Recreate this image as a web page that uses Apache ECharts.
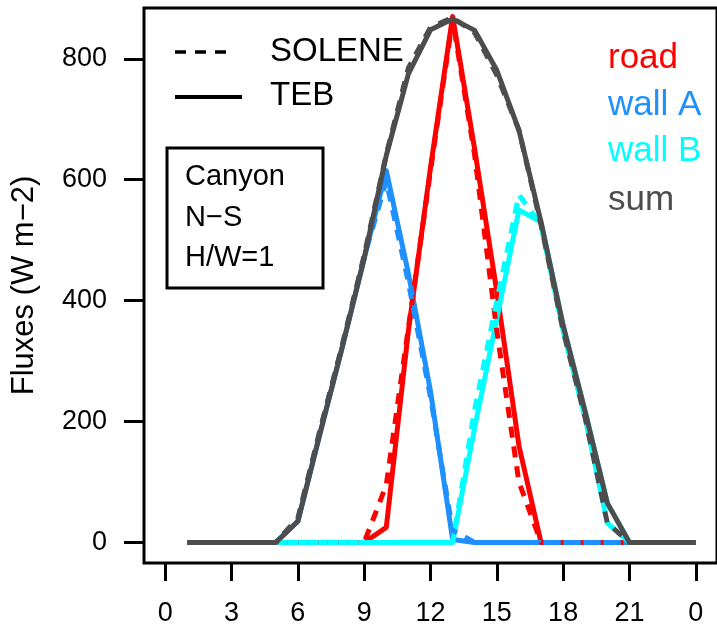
<!DOCTYPE html>
<html>
<head>
<meta charset="utf-8">
<title>Canyon N-S fluxes</title>
<script src="https://cdn.jsdelivr.net/npm/echarts@6/dist/echarts.min.js"></script>
<style>
  html, body { margin: 0; padding: 0; background: #fff; }
  #chart { width: 717px; height: 634px; }
</style>
</head>
<body>
<div id="chart"></div>
<script>
// Hour of day (local time) for each sample
const hours = [1, 2, 3, 4, 5, 6, 7, 8, 9, 10, 11, 12, 13, 14, 15, 16, 17, 18, 19, 20, 21, 22, 23, 24];

// Axis ticks
const xTicks = [0, 3, 6, 9, 12, 15, 18, 21, 24];
const xTickLabels = ['0', '3', '6', '9', '12', '15', '18', '21', '0'];
const yTicks = [0, 200, 400, 600, 800];

// Solar fluxes received (W m-2), TEB model
const tebRoad  = [0, 0, 0, 0, 0, 0, 0, 0, 0, 25, 350, 620, 870, 650, 415, 160, 0, 0, 0, 0, 0, 0, 0, 0];
const tebWallA = [0, 0, 0, 0, 0, 35, 180, 322, 470, 615, 445, 250, 5, 0, 0, 0, 0, 0, 0, 0, 0, 0, 0, 0];
const tebWallB = [0, 0, 0, 0, 0, 0, 0, 0, 0, 0, 0, 0, 0, 190, 370, 550, 530, 359, 216, 65, 0, 0, 0, 0];
const tebSum   = [0, 0, 0, 0, 0, 35, 180, 322, 470, 640, 775, 848, 866, 847, 781, 682, 530, 359, 216, 65, 0, 0, 0, 0];

// Solar fluxes received (W m-2), SOLENE model
const soleneRoad  = [0, 0, 0, 0, 0, 0, 0, 0, 0, 95, 355, 615, 865, 640, 350, 100, 0, 0, 0, 0, 0, 0, 0, 0];
const soleneWallA = [0, 0, 0, 0, 0, 38, 185, 325, 472, 598, 430, 240, 20, 0, 0, 0, 0, 0, 0, 0, 0, 0, 0, 0];
const soleneWallB = [0, 0, 0, 0, 0, 0, 0, 0, 0, 0, 0, 0, 0, 220, 400, 575, 525, 350, 205, 32, 0, 0, 0, 0];
const soleneSum   = [0, 0, 0, 0, 0, 40, 185, 325, 475, 642, 785, 852, 868, 843, 773, 682, 525, 350, 205, 32, 0, 0, 0, 0];

const FONT = '"Liberation Sans", Arial, Helvetica, sans-serif';
const RED = '#FF0000', BLUE = '#1E90FF', CYAN = '#00FFFF', GREY = '#4D4D4D';

function line(name, values, color, dashed) {
  return {
    name: name,
    type: 'line',
    data: hours.map((h, i) => [h, values[i]]),
    showSymbol: false,
    symbol: 'none',
    silent: true,
    lineStyle: {
      color: color,
      width: 5,
      type: dashed ? [11, 9] : 'solid',
      cap: 'butt',
      join: 'round'
    }
  };
}

const chart = echarts.init(document.getElementById('chart'), null, { renderer: 'canvas' });

chart.setOption({
  animation: false,
  backgroundColor: '#ffffff',
  textStyle: { fontFamily: FONT },
  grid: {
    left: 144, top: 8, width: 578, height: 555,
    show: true, borderColor: '#000', borderWidth: 3,
    backgroundColor: 'transparent'
  },
  xAxis: {
    type: 'value',
    min: -0.96, max: 24.96,
    axisLine: { show: false, onZero: false },
    splitLine: { show: false },
    axisTick: {
      show: true, length: 18, inside: false,
      customValues: xTicks,
      lineStyle: { color: '#000', width: 3 }
    },
    axisLabel: {
      customValues: xTicks,
      margin: 37,
      fontSize: 27, color: '#000', fontFamily: FONT,
      formatter: v => xTickLabels[xTicks.indexOf(v)]
    }
  },
  yAxis: {
    type: 'value',
    min: -34, max: 884,
    name: 'Fluxes (W m\u22122)',
    nameLocation: 'middle',
    nameRotate: 90,
    nameGap: 104,
    nameTextStyle: { fontSize: 31, color: '#000', fontFamily: FONT },
    axisLine: { show: false, onZero: false },
    splitLine: { show: false },
    axisTick: {
      show: true, length: 20, inside: false,
      customValues: yTicks,
      lineStyle: { color: '#000', width: 3 }
    },
    axisLabel: {
      customValues: yTicks,
      margin: 37,
      fontSize: 27, color: '#000', fontFamily: FONT
    }
  },
  series: [
    line('road TEB', tebRoad, RED, false),
    line('wall A TEB', tebWallA, BLUE, false),
    line('wall B TEB', tebWallB, CYAN, false),
    line('road SOLENE', soleneRoad, RED, true),
    line('wall A SOLENE', soleneWallA, BLUE, true),
    line('wall B SOLENE', soleneWallB, CYAN, true),
    line('sum TEB', tebSum, GREY, false),
    line('sum SOLENE', soleneSum, GREY, true)
  ],
  graphic: [
    // line-type key
    { type: 'line', shape: { x1: 175, y1: 52, x2: 232, y2: 52 },
      style: { stroke: '#000', lineWidth: 3.5, lineDash: [11, 9] } },
    { type: 'text', x: 270, y: 52,
      style: { text: 'SOLENE', font: '33px ' + FONT, fill: '#000', textAlign: 'left', textVerticalAlign: 'middle' } },
    { type: 'line', shape: { x1: 175, y1: 97, x2: 242, y2: 97 },
      style: { stroke: '#000', lineWidth: 4 } },
    { type: 'text', x: 270, y: 96,
      style: { text: 'TEB', font: '33px ' + FONT, fill: '#000', textAlign: 'left', textVerticalAlign: 'middle' } },

    // surface colour key
    { type: 'text', x: 608, y: 58,
      style: { text: 'road', font: '35px ' + FONT, fill: RED, textAlign: 'left', textVerticalAlign: 'middle' } },
    { type: 'text', x: 608, y: 105,
      style: { text: 'wall A', font: '35px ' + FONT, fill: BLUE, textAlign: 'left', textVerticalAlign: 'middle' } },
    { type: 'text', x: 608, y: 151,
      style: { text: 'wall B', font: '35px ' + FONT, fill: CYAN, textAlign: 'left', textVerticalAlign: 'middle' } },
    { type: 'text', x: 608, y: 200,
      style: { text: 'sum', font: '35px ' + FONT, fill: GREY, textAlign: 'left', textVerticalAlign: 'middle' } },

    // canyon configuration box
    { type: 'rect', shape: { x: 167, y: 148, width: 156, height: 140 },
      style: { stroke: '#000', lineWidth: 3, fill: null } },
    { type: 'text', x: 185, y: 177,
      style: { text: 'Canyon', font: '29px ' + FONT, fill: '#000', textAlign: 'left', textVerticalAlign: 'middle' } },
    { type: 'text', x: 185, y: 218,
      style: { text: 'N\u2212S', font: '29px ' + FONT, fill: '#000', textAlign: 'left', textVerticalAlign: 'middle' } },
    { type: 'text', x: 185, y: 258,
      style: { text: 'H/W=1', font: '29px ' + FONT, fill: '#000', textAlign: 'left', textVerticalAlign: 'middle' } }
  ]
});
</script>
</body>
</html>
